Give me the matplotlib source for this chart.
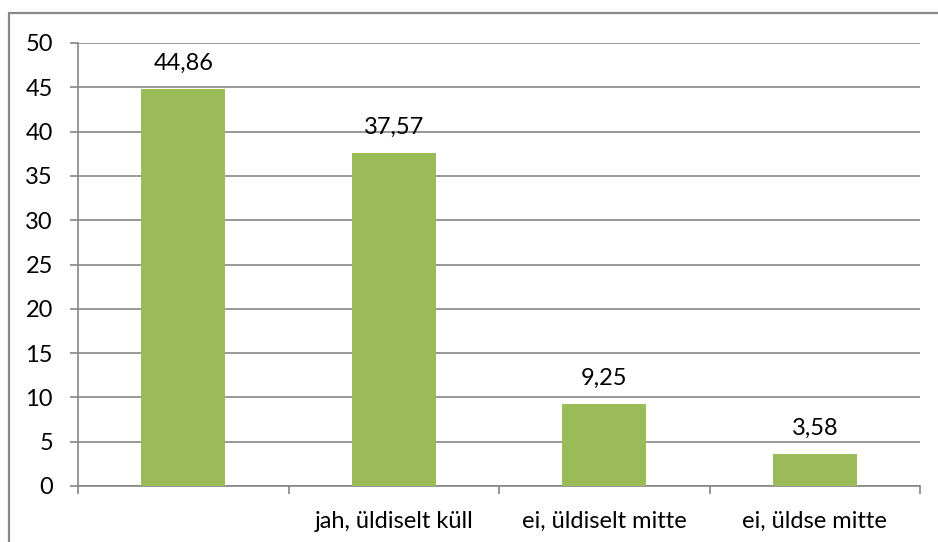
import matplotlib.pyplot as plt
from matplotlib.patches import Rectangle

# data
categories = ['', 'jah, üldiselt küll', 'ei, üldiselt mitte', 'ei, üldse mitte']
values = [44.86, 37.57, 9.25, 3.58]
yticks = list(range(0, 51, 5))

plt.rcParams['font.family'] = ['Lato', 'DejaVu Sans']
fs = 17

fig = plt.figure(figsize=(9.38, 5.42), dpi=100)
ax = fig.add_axes([78/938, 1 - 486/542, (920 - 78)/938, (486 - 43)/542])

grid_col = '#868686'
x = list(range(len(categories)))
ax.bar(x, values, width=0.4, color='#9BBB59', zorder=3)

for xi, v in zip(x, values):
    ax.text(xi, v + 2.9, ('%.2f' % v).replace('.', ','), ha='center', va='center',
            fontsize=fs, color='black')

ax.set_xlim(-0.5, len(categories) - 0.5)
ax.set_ylim(0, 50)
ax.set_yticks(yticks)
ax.set_yticklabels([str(t) for t in yticks], fontsize=fs)
ax.yaxis.grid(True, color=grid_col, linewidth=1.2, zorder=0)

# category boundaries as major ticks, labels as minor ticks
ax.set_xticks([i - 0.5 for i in range(len(categories) + 1)])
ax.set_xticklabels([])
ax.set_xticks(x, minor=True)
ax.set_xticklabels(categories, minor=True, fontsize=fs)
ax.tick_params(axis='x', which='major', length=6, width=1.2, color=grid_col)
ax.tick_params(axis='x', which='minor', length=0, pad=18)
ax.tick_params(axis='y', length=6, width=1.2, color=grid_col, pad=12)

for side in ['top', 'right']:
    ax.spines[side].set_visible(False)
for side in ['left', 'bottom']:
    ax.spines[side].set_color(grid_col)
    ax.spines[side].set_linewidth(1.2)

# chart border (runs off the image at right and bottom)
fig.patches.append(Rectangle((9/938, -0.05), 1.2, 1 - 13/542 + 0.05,
                             transform=fig.transFigure, fill=False,
                             edgecolor='#888888', linewidth=1.6))

fig.savefig('out.png', dpi=100)
